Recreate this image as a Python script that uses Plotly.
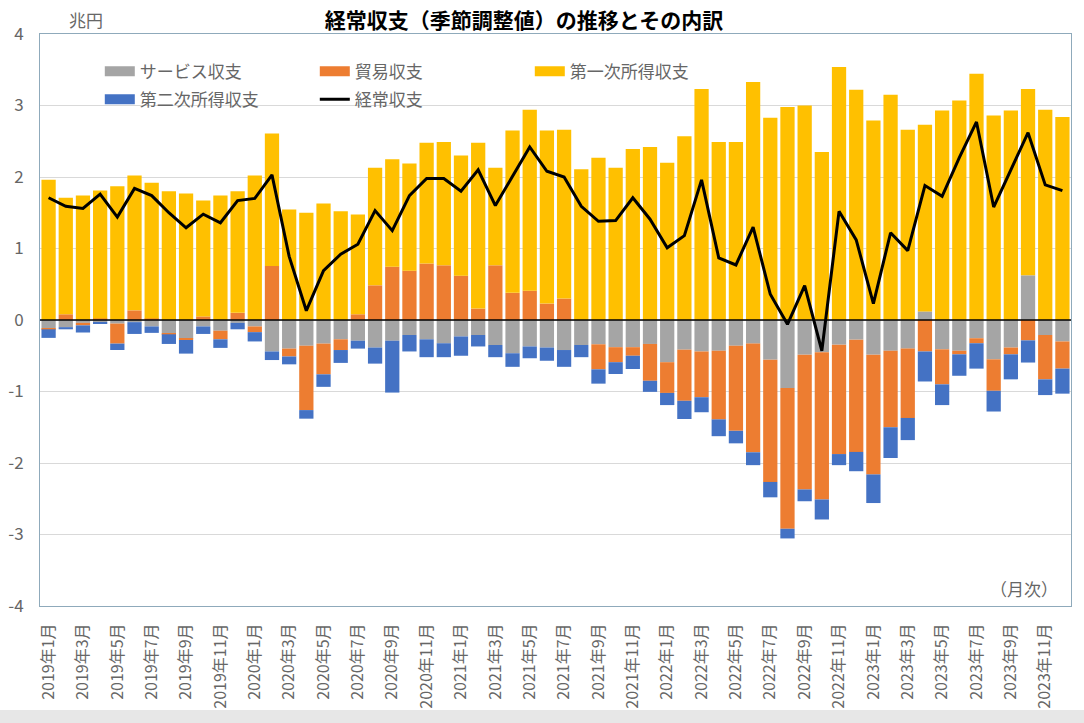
import plotly.graph_objects as go

# 月次ラベル (2019年1月〜2023年12月)
months = [f"{y}年{m}月" for y in range(2019, 2024) for m in range(1, 13)]

# 兆円
services = [-0.12, -0.10, -0.04, -0.03, -0.05, -0.03, -0.09, -0.19, -0.26, -0.09, -0.15, -0.04,
            -0.09, -0.44, -0.40, -0.36, -0.33, -0.27, -0.29, -0.385, -0.29, -0.21, -0.27, -0.325,
            -0.23, -0.21, -0.35, -0.465, -0.37, -0.385, -0.42, -0.35, -0.34, -0.38, -0.38, -0.335,
            -0.59, -0.415, -0.44, -0.43, -0.36, -0.33, -0.555, -0.95, -0.485, -0.45, -0.345, -0.275,
            -0.485, -0.43, -0.40, 0.12, -0.41, -0.43, -0.255, -0.55, -0.385, 0.625, -0.21, -0.30]

trade = [-0.01, 0.08, -0.035, 0.02, -0.28, 0.135, 0.02, -0.01, -0.02, 0.05, -0.12, 0.10,
         -0.08, 0.755, -0.11, -0.90, -0.43, -0.15, 0.08, 0.485, 0.745, 0.69, 0.79, 0.765,
         0.62, 0.16, 0.765, 0.38, 0.41, 0.23, 0.30, 0.0, -0.35, -0.21, -0.12, -0.515,
         -0.43, -0.715, -0.64, -0.96, -1.19, -1.52, -1.71, -1.97, -1.885, -2.06, -1.53, -1.57,
         -1.675, -1.07, -0.97, -0.44, -0.49, -0.05, -0.07, -0.44, -0.095, -0.285, -0.62, -0.38]

primary = [1.96, 1.63, 1.74, 1.79, 1.87, 1.885, 1.90, 1.80, 1.77, 1.62, 1.74, 1.70,
           2.02, 1.855, 1.545, 1.50, 1.63, 1.52, 1.395, 1.645, 1.505, 1.50, 1.69, 1.725,
           1.68, 2.32, 1.365, 2.27, 2.53, 2.42, 2.36, 2.11, 2.27, 2.13, 2.39, 2.42,
           2.20, 2.57, 3.23, 2.49, 2.49, 3.33, 2.83, 2.98, 3.00, 2.35, 3.54, 3.22,
           2.79, 3.15, 2.66, 2.61, 2.93, 3.07, 3.445, 2.86, 2.93, 2.605, 2.94, 2.84]

secondary = [-0.12, -0.03, -0.10, -0.02, -0.09, -0.165, -0.09, -0.135, -0.19, -0.105, -0.12, -0.09,
             -0.13, -0.12, -0.11, -0.12, -0.175, -0.18, -0.11, -0.225, -0.725, -0.23, -0.25, -0.195,
             -0.27, -0.16, -0.17, -0.19, -0.165, -0.185, -0.235, -0.17, -0.20, -0.165, -0.185, -0.155,
             -0.17, -0.255, -0.21, -0.235, -0.175, -0.18, -0.215, -0.135, -0.165, -0.28, -0.155, -0.27,
             -0.40, -0.43, -0.31, -0.42, -0.29, -0.30, -0.355, -0.29, -0.35, -0.31, -0.22, -0.35]

current = [1.71, 1.59, 1.56, 1.76, 1.44, 1.84, 1.74, 1.50, 1.29, 1.48, 1.36, 1.67,
           1.70, 2.03, 0.89, 0.13, 0.69, 0.92, 1.06, 1.53, 1.25, 1.74, 1.98, 1.98,
           1.80, 2.10, 1.60, 2.01, 2.42, 2.08, 2.00, 1.59, 1.38, 1.39, 1.71, 1.41,
           1.01, 1.18, 1.96, 0.87, 0.77, 1.30, 0.36, -0.06, 0.48, -0.43, 1.52, 1.12,
           0.23, 1.22, 0.97, 1.88, 1.73, 2.27, 2.77, 1.58, 2.10, 2.62, 1.89, 1.81]

y_ticks = [4, 3, 2, 1, 0, -1, -2, -3, -4]
y_ticktext = ["4", "3", "2", "1", "0", "-1", "-2", "-3", "-4"]

GRAY = "#A5A5A5"
ORANGE = "#ED7D31"
YELLOW = "#FFC000"
BLUE = "#4472C4"
FONT = "Noto Sans CJK JP"
TXT = "#666666"

fig = go.Figure()

for name, vals, col in [("サービス収支", services, GRAY), ("貿易収支", trade, ORANGE),
                        ("第一次所得収支", primary, YELLOW), ("第二次所得収支", secondary, BLUE)]:
    fig.add_trace(go.Bar(x=months, y=vals, name=name, marker=dict(color=col, line_width=0),
                         showlegend=False))

fig.add_trace(go.Scatter(x=months, y=current, name="経常収支", mode="lines",
                         line=dict(color="black", width=3), showlegend=False))

# legend entries (wide rectangles like the original)
for name, col, lg, w in [("サービス収支", GRAY, "legend", 13), ("貿易収支", ORANGE, "legend", 13),
                         ("第一次所得収支", YELLOW, "legend", 13),
                         ("第二次所得収支", BLUE, "legend2", 13), ("経常収支", "black", "legend2", 3)]:
    fig.add_trace(go.Scatter(x=[None], y=[None], mode="lines", name=name,
                             line=dict(color=col, width=w), legend=lg))

# zero line over the bars
fig.add_shape(type="line", xref="paper", yref="y", x0=0, x1=1, y0=0, y1=0,
              line=dict(color="black", width=1.3), layer="above")
# grey strip at the bottom of the page
fig.add_shape(type="rect", xref="paper", yref="paper", x0=-0.05, x1=1.02, y0=-0.2045, y1=-0.1818,
              fillcolor="#E7E7E7", line_width=0, layer="below")

legend_style = dict(orientation="h", entrywidth=170, entrywidthmode="pixels",
                    font=dict(family=FONT, size=17, color=TXT), bgcolor="rgba(0,0,0,0)",
                    xanchor="left", yanchor="middle", itemwidth=30, tracegroupgap=0)

fig.update_layout(
    width=1084, height=723,
    margin=dict(l=40, r=13, t=34, b=117, autoexpand=False),
    paper_bgcolor="white", plot_bgcolor="white",
    barmode="relative", bargap=0.17,
    font=dict(family=FONT, color=TXT),
    title=dict(text="<b>経常収支（季節調整値）の推移とその内訳</b>", x=0.4834, xanchor="center",
               y=0.972, yanchor="middle", font=dict(family=FONT, size=21, color="black")),
    legend=dict(x=0.058, y=0.934, **legend_style),
    legend2=dict(x=0.058, y=0.885, **legend_style),
    xaxis=dict(type="category", tickmode="array", tickvals=months[::2], tickangle=-90,
               tickfont=dict(family=FONT, size=16, color=TXT), showgrid=False,
               showline=True, mirror=True, linecolor="#8FAABB", linewidth=1,
               ticks="", ticklabelstandoff=10, range=[-0.5, 59.5], automargin=False),
    yaxis=dict(range=[-4, 4], tickmode="array", tickvals=y_ticks, ticktext=y_ticktext,
               tickfont=dict(family=FONT, size=17, color=TXT),
               gridcolor="#D9D9D9", gridwidth=1, zeroline=False,
               showline=True, mirror=True, linecolor="#8FAABB", linewidth=1,
               ticks="", ticklabelstandoff=12, automargin=False),
    annotations=[
        dict(text="兆円", xref="paper", yref="paper", x=0.026, y=1.0245, xanchor="left",
             yanchor="middle", showarrow=False, font=dict(family=FONT, size=17, color=TXT)),
        dict(text="（月次）", xref="paper", yref="paper", x=0.989, y=0.031, xanchor="right",
             yanchor="middle", showarrow=False, font=dict(family=FONT, size=17, color=TXT)),
    ],
)

fig.write_html("out.html", config={"displayModeBar": False},
               post_script="document.body.style.margin='0px';")
